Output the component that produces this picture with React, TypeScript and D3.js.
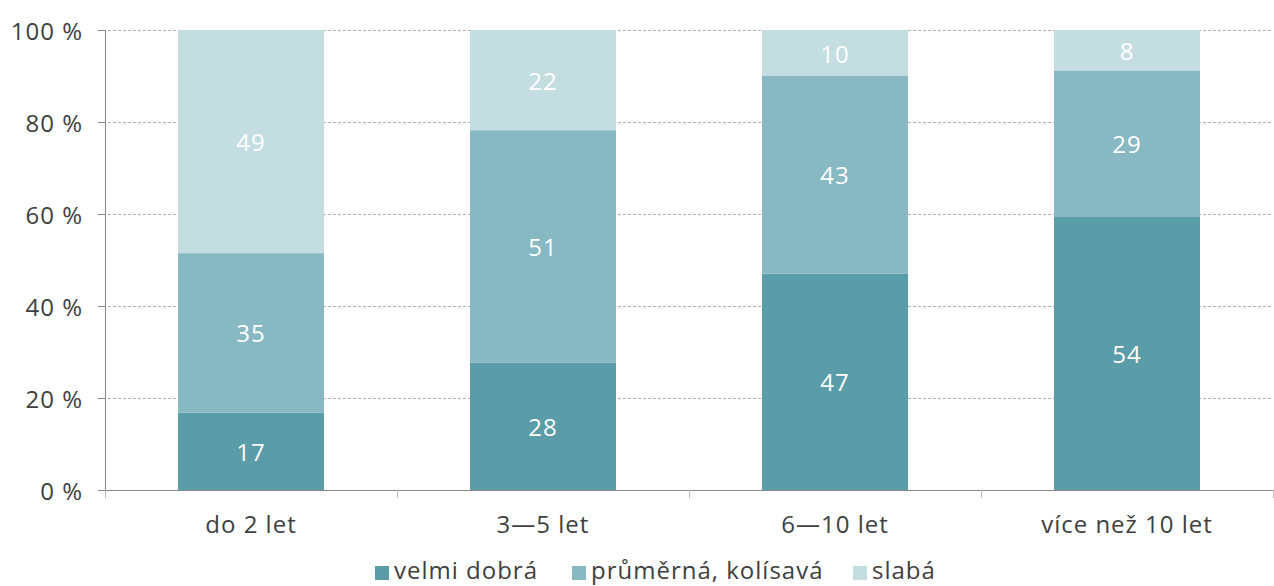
import React from "react";
import * as d3 from "d3";

const categories = ["do 2 let", "3—5 let", "6—10 let", "více než 10 let"];
const seriesNames = ["velmi dobrá", "průměrná, kolísavá", "slabá"];
const velmiDobra = [17, 28, 47, 54];
const prumerna = [35, 51, 43, 29];
const slaba = [49, 22, 10, 8];
const yTicks = [0, 20, 40, 60, 80, 100];
const colors = ["#5a9ca8", "#88b8c2", "#c3dde0"];

const W = 1274;
const H = 586;
const margin = { left: 105, right: 1, top: 30, bottom: 96 };
const font = "'Open Sans', sans-serif";
const fontSize = 24;
const spacing = 1;
const textColor = "#404040";

export default function App() {
  const series = [velmiDobra, prumerna, slaba];
  const x = d3
    .scaleBand<string>()
    .domain(categories)
    .range([margin.left, W - margin.right])
    .paddingInner(0.5)
    .paddingOuter(0.25);
  const y = d3.scaleLinear().domain([0, 100]).range([H - margin.bottom, margin.top]);

  const rows = categories.map((c, i) => {
    const row: Record<string, number | string> = { cat: c };
    seriesNames.forEach((s, j) => (row[s] = series[j][i]));
    return row;
  });
  const stack = d3.stack<any>().keys(seriesNames).offset(d3.stackOffsetExpand);
  const stacked = stack(rows);

  const bandStep = (W - margin.right - margin.left) / categories.length;
  const tickXs = d3.range(categories.length + 1).map((i) => margin.left + i * bandStep);

  const legendX = [375, 572, 853];

  return (
    <svg
      width={W}
      height={H}
      style={{ position: "absolute", left: 0, top: 0, fontFamily: font, letterSpacing: spacing }}
    >
      {/* grid lines and y labels */}
      {yTicks.map((t) => (
        <g key={t}>
          {t > 0 && (
            <line
              x1={margin.left - 7}
              x2={W - margin.right}
              y1={y(t) + 0.5}
              y2={y(t) + 0.5}
              stroke="#b0b0b0"
              strokeDasharray="3,2"
            />
          )}
          <line x1={margin.left - 7} x2={margin.left} y1={y(t) + 0.5} y2={y(t) + 0.5} stroke="#888" />
          <text
            x={83}
            y={y(t)}
            textAnchor="end"
            dominantBaseline="central"
            fontSize={fontSize}
            fill={textColor}
          >
            {t} %
          </text>
        </g>
      ))}
      {/* stacked bars */}
      {stacked.map((layer, j) =>
        layer.map((d, i) => {
          const x0 = x(categories[i])!;
          const y0 = y(d[0] * 100);
          const y1 = y(d[1] * 100);
          return (
            <g key={`${j}-${i}`}>
              <rect x={x0} y={y1} width={x.bandwidth()} height={y0 - y1} fill={colors[j]} />
              <text
                x={x0 + x.bandwidth() / 2}
                y={(y0 + y1) / 2}
                textAnchor="middle"
                dominantBaseline="central"
                fontSize={fontSize}
                fill="#ffffff"
              >
                {series[j][i]}
              </text>
            </g>
          );
        })
      )}
      {/* axes */}
      <line x1={margin.left + 0.5} x2={margin.left + 0.5} y1={margin.top} y2={y(0) + 8} stroke="#888" />
      <line x1={margin.left} x2={W - margin.right} y1={y(0) + 0.5} y2={y(0) + 0.5} stroke="#888" />
      {tickXs.map((tx, i) => (
        <line key={i} x1={tx + 0.5} x2={tx + 0.5} y1={y(0)} y2={y(0) + 8} stroke="#bbb" />
      ))}
      {categories.map((c) => (
        <text
          key={c}
          x={x(c)! + x.bandwidth() / 2}
          y={523}
          textAnchor="middle"
          dominantBaseline="central"
          fontSize={fontSize}
          fill={textColor}
        >
          {c}
        </text>
      ))}
      {/* legend */}
      {seriesNames.map((s, j) => (
        <g key={s}>
          <rect x={legendX[j]} y={566} width={14} height={14} fill={colors[j]} />
          <text x={legendX[j] + 19} y={579} fontSize={fontSize} fill={textColor}>
            {s}
          </text>
        </g>
      ))}
    </svg>
  );
}
